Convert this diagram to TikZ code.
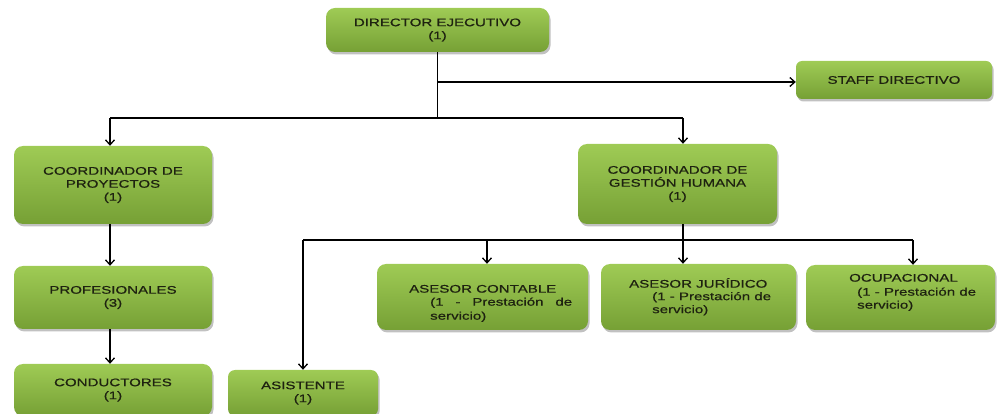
\documentclass[tikz,border=0pt]{standalone}
\usepackage{fontspec}
\setmainfont{Liberation Sans}[FakeStretch=1.37,FakeBold=0.7]
\usetikzlibrary{arrows.meta,shadows}
\definecolor{boxtop}{HTML}{9FCB55}
\definecolor{boxbot}{HTML}{76A035}
\definecolor{txtc}{HTML}{1E2210}
\tikzset{
  box/.style={rounded corners=9pt, top color=boxtop, bottom color=boxbot, draw=none,
    drop shadow={shadow xshift=1.5pt, shadow yshift=-2.5pt, opacity=0.35, fill=black!70},
    inner sep=0pt, align=center, text=txtc, font=\fontsize{11}{13}\selectfont},
  txt/.style={inner sep=0pt, anchor=mid west, text=txtc, font=\fontsize{11}{13}\selectfont},
  conn/.style={line width=1.3pt, black},
  arr/.style={conn, -{Straight Barb[length=5pt,width=9pt,line width=1.3pt]}},
}
\begin{document}
\begin{tikzpicture}[x=1pt,y=-1pt]
\useasboundingbox (0,0) rectangle (997,414);
\clip (0,0) rectangle (997,414);
% boxes
\node[box, minimum width=223pt, minimum height=44pt] (dir) at (437.5,30) {DIRECTOR EJECUTIVO\\(1)};
\node[box, rounded corners=6pt, minimum width=196pt, minimum height=38pt] (staff) at (894,80) {STAFF DIRECTIVO};
\node[box, minimum width=198pt, minimum height=78pt] (cp) at (113,185) {COORDINADOR DE\\PROYECTOS\\(1)};
\node[box, minimum width=199pt, minimum height=80pt] (cgh) at (677.5,184) {COORDINADOR DE\\GESTIÓN HUMANA\\(1)};
\node[box, minimum width=198pt, minimum height=63pt] (prof) at (113,297.5) {PROFESIONALES\\(3)};
\node[box, minimum width=198pt, minimum height=52pt] (cond) at (113,390) {CONDUCTORES\\(1)};
\node[box, rounded corners=7pt, minimum width=150pt, minimum height=46pt] (asis) at (303,393) {ASISTENTE\\(1)};
\node[box, minimum width=211pt, minimum height=66pt] (acon) at (482.5,297) {};
\node[box, minimum width=195pt, minimum height=66pt] (ajur) at (698.5,297) {};
\node[box, minimum width=189pt, minimum height=65pt] (ocup) at (900.5,297.5) {};
% texts of advisor boxes
\node[txt] (acon1) at (409,290) {ASESOR CONTABLE};
\node[txt] (acon2) at (430,303) {\makebox[142pt][s]{(1 - Prestación de}};
\node[txt] (acon3) at (430,317) {servicio)};
\node[txt] (ajur1) at (629,285) {ASESOR JURÍDICO};
\node[txt] (ajur2) at (652,297.5) {(1 - Prestación de};
\node[txt] (ajur3) at (652,310.5) {servicio)};
\node[txt] (ocup1) at (849,279) {OCUPACIONAL};
\node[txt] (ocup2) at (857,293) {(1 - Prestación de};
\node[txt] (ocup3) at (857,306) {servicio)};
% connectors
\coordinate (j1) at (437.5,82);
\coordinate (j2) at (437.5,118);
\coordinate (hl) at (110,118);
\coordinate (hr) at (683,118);
\draw[conn] (dir.south) -- (j2);
\draw[arr] (j1) -- (j1 -| staff.west);
\draw[conn] (hl) -- (hr);
\draw[arr] (hl) -- (hl |- cp.north);
\draw[arr] (hr) -- (hr |- cgh.north);
\draw[arr] (hl |- cp.south) -- (hl |- prof.north);
\draw[arr] (hl |- prof.south) -- (hl |- cond.north);
\coordinate (b0) at (683,240);
\coordinate (bl) at (303,240);
\coordinate (bc) at (487,240);
\coordinate (br) at (913,240);
\draw[conn] (hr |- cgh.south) -- (b0);
\draw[conn] (bl) -- (br);
\draw[arr] (bl) -- (bl |- asis.north);
\draw[arr] (bc) -- (bc |- acon.north);
\draw[arr] (b0) -- (b0 |- ajur.north);
\draw[arr] (br) -- (br |- ocup.north);
\end{tikzpicture}
\end{document}
